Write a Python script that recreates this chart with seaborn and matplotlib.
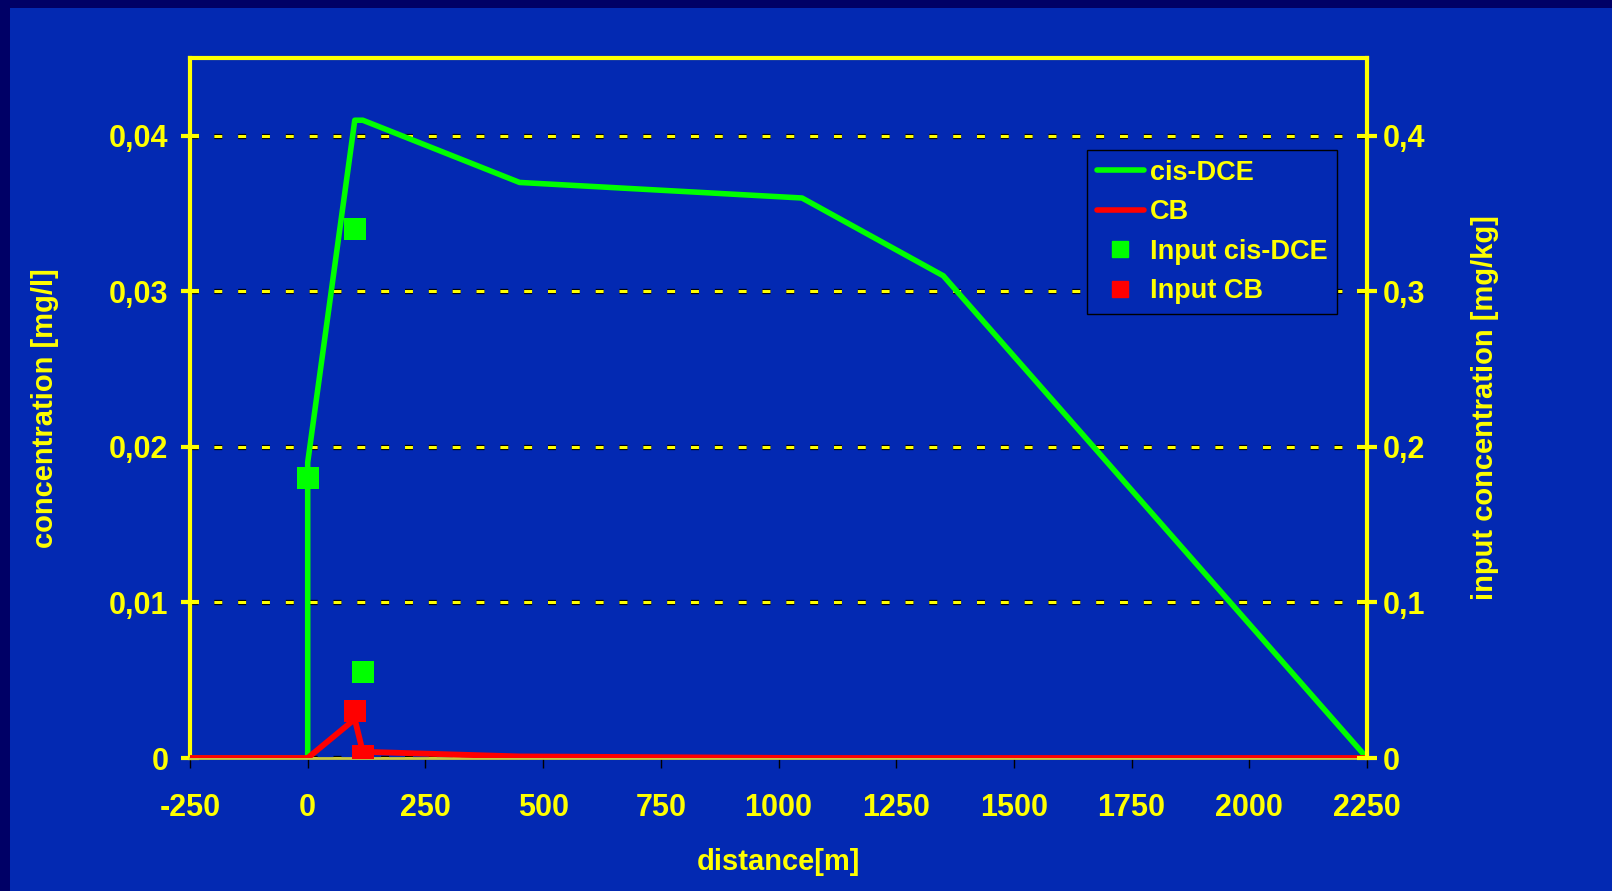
import matplotlib
matplotlib.use("Agg")
import matplotlib.pyplot as plt
import matplotlib.patheffects as pe
from matplotlib.patches import Rectangle
from matplotlib.lines import Line2D
import seaborn as sns
import pandas as pd

# model output along the flow path
distance = [-250, 0, 0, 100, 117, 450, 1050, 1350, 2250]
cis_dce = [0, 0, 0.019, 0.041, 0.041, 0.037, 0.036, 0.031, 0]
cb_dist = [-250, 0, 100, 117, 450, 1050, 1350, 2250]
cb = [0, 0, 0.0025, 0.0004, 0.0001, 0, 0, 0]

# measured input concentrations (right axis)
input_dist = [0, 100, 117]
input_cis_dce = [0.18, 0.34, 0.055]
input_cb_dist = [100, 117]
input_cb = [0.03, 0.001]

x_ticks = [-250, 0, 250, 500, 750, 1000, 1250, 1500, 1750, 2000, 2250]
y_ticks = [0, 0.01, 0.02, 0.03, 0.04]
y_labels = ["0", "0,01", "0,02", "0,03", "0,04"]
y2_ticks = [0, 0.1, 0.2, 0.3, 0.4]
y2_labels = ["0", "0,1", "0,2", "0,3", "0,4"]

BLUE = "#0329B2"
DARK = "#000066"
YELLOW = "#FFFF00"
GREEN = "#00FF00"
RED = "#FF0000"

sns.set_style("white")
plt.rcParams["font.family"] = ["Liberation Sans", "DejaVu Sans"]
plt.rcParams["font.weight"] = "bold"

fig = plt.figure(figsize=(16.12, 8.91), dpi=100, facecolor=DARK)
bg = Rectangle((10 / 1612, 0), 1, 1 - 8 / 891, transform=fig.transFigure,
               facecolor=BLUE, edgecolor="none", zorder=-10)
fig.patches.append(bg)

ax = fig.add_axes([190 / 1612, 1 - 758 / 891, 1177 / 1612, 700 / 891])
ax.set_facecolor(BLUE)

df_dce = pd.DataFrame({"x": distance, "y": cis_dce})
df_cb = pd.DataFrame({"x": cb_dist, "y": cb})
sns.lineplot(data=df_dce, x="x", y="y", sort=False, estimator=None, color=GREEN,
             linewidth=4, ax=ax, zorder=3)
sns.lineplot(data=df_cb, x="x", y="y", sort=False, estimator=None, color=RED,
             linewidth=4.2, ax=ax, zorder=4)

ax.set_xlim(-250, 2250)
ax.set_ylim(0, 0.045)
ax.set_xticks(x_ticks)
ax.set_xticklabels([str(t) for t in x_ticks])
ax.set_yticks(y_ticks)
ax.set_yticklabels(y_labels)

ax.grid(axis="y", color=YELLOW, linewidth=2.2, linestyle=(0, (2.6, 5.2)))
for gl in ax.get_ygridlines():
    gl.set_path_effects([pe.Stroke(linewidth=3.8, foreground="black"), pe.Normal()])

for side in ["left", "top"]:
    ax.spines[side].set_color(YELLOW)
    ax.spines[side].set_linewidth(3)
ax.spines["right"].set_visible(False)
ax.spines["bottom"].set_color("#C8C840")
ax.spines["bottom"].set_linewidth(2)

ax.tick_params(axis="y", direction="inout", length=13, width=3, color=YELLOW,
               labelcolor=YELLOW, labelsize=22, pad=9, left=True)
ax.tick_params(axis="x", direction="out", length=7, width=1, color="black",
               labelcolor=YELLOW, labelsize=22, pad=18, bottom=True)

ax.set_xlabel("distance[m]", color=YELLOW, fontsize=21, fontweight="bold", va="center")
ax.xaxis.set_label_coords(0.5, -0.148)
ax.set_ylabel("concentration [mg/l]", color=YELLOW, fontsize=21, fontweight="bold", va="center")
ax.yaxis.set_label_coords(-0.123, 0.5)

ax2 = ax.twinx()
ax2.set_ylim(0, 0.45)
ax2.set_yticks(y2_ticks)
ax2.set_yticklabels(y2_labels)
sns.scatterplot(x=input_dist, y=input_cis_dce, color=GREEN, marker="s", s=240,
                linewidth=0, ax=ax2, zorder=5)
sns.scatterplot(x=input_cb_dist, y=input_cb, color=RED, marker="s", s=240,
                linewidth=0, ax=ax2, zorder=6)
for side in ["left", "top", "bottom"]:
    ax2.spines[side].set_visible(False)
ax2.spines["right"].set_color(YELLOW)
ax2.spines["right"].set_linewidth(3)
ax2.tick_params(axis="y", direction="inout", length=15, width=3, color=YELLOW,
                labelcolor=YELLOW, labelsize=22, pad=4, right=True)
ax2.set_ylabel("input concentration [mg/kg]", color=YELLOW, fontsize=21,
               fontweight="bold", va="center", rotation=90)
ax2.yaxis.set_label_coords(1.1, 0.5)

handles = [
    Line2D([], [], color=GREEN, linewidth=4),
    Line2D([], [], color=RED, linewidth=4),
    Line2D([], [], color=GREEN, marker="s", linestyle="none", markersize=11),
    Line2D([], [], color=RED, marker="s", linestyle="none", markersize=11),
]
leg = ax2.legend(handles, ["cis-DCE", "CB", "Input cis-DCE", "Input CB"],
                 loc="upper left", bbox_to_anchor=(1087 / 1612, 1 - 150 / 891),
                 bbox_transform=fig.transFigure, frameon=True, fancybox=False,
                 facecolor=BLUE, edgecolor="black", framealpha=1,
                 fontsize=19.5, handlelength=1.75, handletextpad=0.2,
                 labelspacing=0.5, borderpad=0.36, borderaxespad=0)
leg.get_frame().set_linewidth(1)
for t in leg.get_texts():
    t.set_color(YELLOW)
    t.set_fontweight("bold")

fig.savefig("out.png", dpi=100, facecolor=fig.get_facecolor())
